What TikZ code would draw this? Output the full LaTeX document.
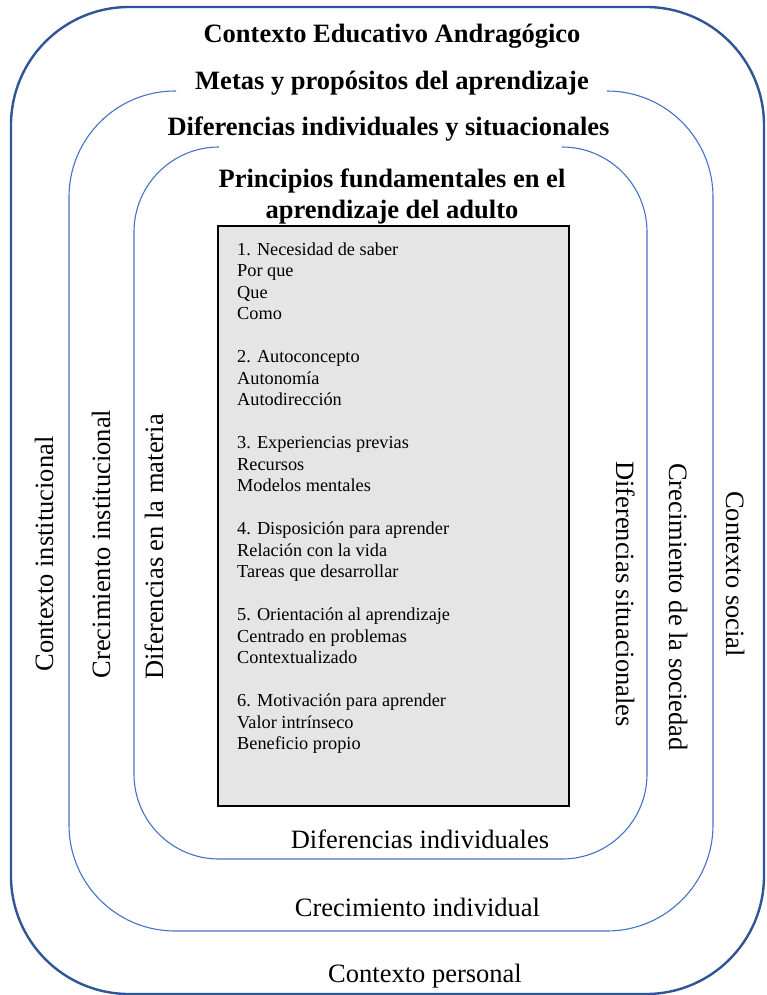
\documentclass[tikz,border=0pt]{standalone}
\usepackage{fontspec}
\setmainfont{Liberation Serif}
\definecolor{frameblue}{HTML}{2F5597}
\definecolor{ringblue}{HTML}{4472C4}
\definecolor{boxgray}{HTML}{E5E5E5}
\begin{document}
\begin{tikzpicture}[x=1pt,y=-1pt,
  title/.style={font=\fontsize{26.5}{30}\selectfont\bfseries, inner sep=0, anchor=base},
  ringlabel/.style={font=\fontsize{26.5}{30}\selectfont, inner sep=0, anchor=base},
  item/.style={font=\fontsize{18.3}{21.5}\selectfont, inner sep=0, anchor=base west},
  ring/.style={ringblue, line width=1.1pt}]
\useasboundingbox (0,0) rectangle (766,995);

% outer frame: educational context
\draw[frameblue, line width=2.4pt, rounded corners=118pt] (11,7) rectangle (764,994);
% middle ring, open at the top for its heading
\draw[ring, rounded corners=106pt] (176,91) -- (69,91) -- (69,931) -- (713,931) -- (713,91) -- (607,91);
% inner ring, open at the top for the principles heading
\draw[ring, rounded corners=85pt] (219,147) -- (134,147) -- (134,859) -- (647,859) -- (647,147) -- (562,147);

% central box with the six principles
\node[draw=black, line width=2.2pt, fill=boxgray, minimum width=351pt, minimum height=580pt,
      anchor=north west, inner sep=0] (box) at (217,225) {};

% headings
\node[title] (t1) at (392,43) {Contexto Educativo Andragógico};
\node[title] (t2) at (392,90) {Metas y propósitos del aprendizaje};
\node[title] (t3) at (388.5,136) {Diferencias individuales y situacionales};
\node[title] (t4) at (392,188) {Principios fundamentales en el};
\node[title] (t5) at (392,218) {aprendizaje del adulto};

% principles, one line per row
\foreach \n/\t in {0/1. Necesidad de saber, 1/Por que, 2/Que, 3/Como,
  5/2. Autoconcepto, 6/Autonomía, 7/Autodirección,
  9/3. Experiencias previas, 10/Recursos, 11/Modelos mentales,
  13/4. Disposición para aprender, 14/Relación con la vida, 15/Tareas que desarrollar,
  17/5. Orientación al aprendizaje, 18/Centrado en problemas, 19/Contextualizado,
  21/6. Motivación para aprender, 22/Valor intrínseco, 23/Beneficio propio}
  \node[item] (item\n) at (237,255+21.5*\n) {\t};

% left side labels
\node[ringlabel, rotate=90] (l1) at (53,554) {Contexto institucional};
\node[ringlabel, rotate=90] (l2) at (110,544) {Crecimiento institucional};
\node[ringlabel, rotate=90] (l3) at (163,547) {Diferencias en la materia};
% right side labels
\node[ringlabel, rotate=-90] (r1) at (616,594) {Diferencias situacionales};
\node[ringlabel, rotate=-90] (r2) at (669,607) {Crecimiento de la sociedad};
\node[ringlabel, rotate=-90] (r3) at (726,574) {Contexto social};
% bottom labels
\node[ringlabel] (b1) at (420,848) {Diferencias individuales};
\node[ringlabel] (b2) at (417.5,916) {Crecimiento individual};
\node[ringlabel] (b3) at (425,982) {Contexto personal};
\end{tikzpicture}
\end{document}
